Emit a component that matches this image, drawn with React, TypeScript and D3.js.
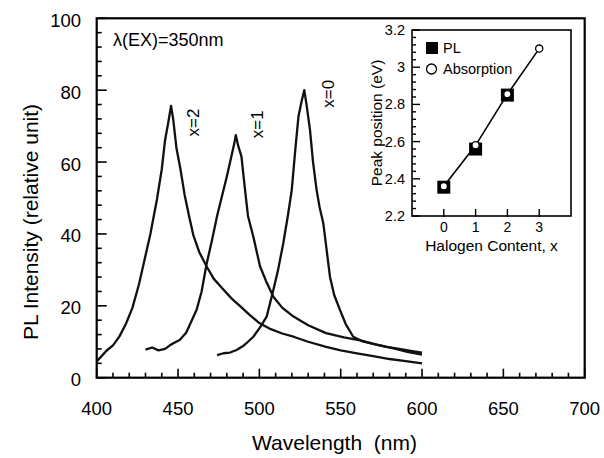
import { useEffect, useRef } from "react";
import * as d3 from "d3";

// PL spectra: [wavelength nm, intensity]
const spectrumX2: [number, number][] = [
  [400, 4.5], [403, 6], [406, 7.5], [410, 9], [414, 11.5], [418, 15], [422, 19.5],
  [426, 26], [429, 32], [433, 40], [437, 49.5], [440, 58], [442, 66], [444, 71],
  [445.7, 75.6], [447, 72], [449, 64], [451.5, 58], [454, 51], [457, 44.5],
  [459.5, 39.5], [463, 35], [467.5, 31], [472, 27.5], [478, 24.5], [483, 22],
  [488, 20], [494, 17.5], [500, 15.2], [507, 13.5], [514, 12.3], [521, 11.4],
  [530, 10], [541, 8.6], [550, 7.6], [560, 6.8], [570, 6], [580, 5.2], [590, 4.6],
  [600, 4],
];

const spectrumX1: [number, number][] = [
  [430, 7.8], [434, 8.4], [438, 7.6], [442, 8], [445, 9], [448, 9.8], [451, 10.5],
  [455, 12.5], [458.5, 16], [461.5, 19], [464.5, 24], [467.5, 31.5], [471, 38.5],
  [474, 45], [477, 50.5], [480, 56], [482.5, 61], [484.5, 65], [485.5, 67.5],
  [487, 64.5], [489, 61.5], [491, 53], [493, 45], [496.3, 39.2], [500.4, 31],
  [504, 27], [508.6, 22.5], [514, 19.5], [521, 17], [530, 14.6], [541, 12.4],
  [552, 11.2], [562, 10.4], [572, 9.2], [582, 8.2], [591, 7.2], [600, 6.4],
];

const spectrumX0: [number, number][] = [
  [474, 6.3], [478, 6.8], [482, 7], [486, 7.7], [490, 8.8], [493, 10], [496.3, 11.4],
  [500.4, 14], [504.5, 17], [508.6, 24.4], [511.5, 30], [514.7, 37.4], [517.5, 45],
  [519.9, 52.2], [522, 63], [524, 72.6], [526, 77], [527.6, 80], [529, 76],
  [531.1, 69], [533, 60], [535.2, 52.2], [537, 47.5], [539.3, 43], [541.5, 35],
  [543.4, 28.1], [546, 23], [549.6, 18.8], [553, 15], [557.7, 11.4], [563, 10.2],
  [570, 9.4], [578, 8.6], [586, 8], [594, 7.4], [600, 7],
];

const spectra = [spectrumX2, spectrumX1, spectrumX0];
const curveLabels = ["x=2", "x=1", "x=0"];
const curveLabelAt: [number, number][] = [[459, 71], [498.5, 70.5], [542, 79]];

const xTicks = [400, 450, 500, 550, 600, 650, 700];
const yTicks = [0, 20, 40, 60, 80, 100];

// inset: peak position vs halogen content
const halogen = [0, 1, 2, 3];
const plPeak = [2.355, 2.56, 2.85];
const absPeak = [2.36, 2.58, 2.855, 3.1];
const insetXTicks = [0, 1, 2, 3];
const insetYTicks = [2.2, 2.4, 2.6, 2.8, 3, 3.2];

const FONT = "'Liberation Sans', Arial, Helvetica, sans-serif";

export default function App() {
  const svgRef = useRef<SVGSVGElement>(null);

  useEffect(() => {
    if (!svgRef.current) return;
    const svg = d3.select(svgRef.current);
    svg.selectAll("*").remove();

    const x = d3.scaleLinear().domain([400, 700]).range([96.7, 584.7]);
    const y = d3.scaleLinear().domain([0, 100]).range([377.7, 18.3]);

    // ticks (inward)
    svg.append("g")
      .selectAll("line")
      .data(d3.range(400, 701, 10))
      .join("line")
      .attr("x1", (d) => x(d)).attr("x2", (d) => x(d))
      .attr("y1", y(0)).attr("y2", (d) => y(0) - (d % 50 === 0 ? 9 : 5))
      .attr("stroke", "#000").attr("stroke-width", 1.6);

    svg.append("g")
      .selectAll("line")
      .data(d3.range(0, 101, 4))
      .join("line")
      .attr("y1", (d) => y(d)).attr("y2", (d) => y(d))
      .attr("x1", x(400)).attr("x2", (d) => x(400) + (d % 20 === 0 ? 10 : 5))
      .attr("stroke", "#000").attr("stroke-width", 1.6);

    // spectra
    const line = d3.line<[number, number]>()
      .x((d) => x(d[0]))
      .y((d) => y(d[1]))
      .curve(d3.curveLinear);

    svg.append("g")
      .selectAll("path")
      .data(spectra)
      .join("path")
      .attr("d", (d) => line(d))
      .attr("fill", "none")
      .attr("stroke", "#111")
      .attr("stroke-width", 2.3)
      .attr("stroke-linejoin", "round");

    // frame
    svg.append("rect")
      .attr("x", x(400)).attr("y", y(100))
      .attr("width", x(700) - x(400)).attr("height", y(0) - y(100))
      .attr("fill", "none").attr("stroke", "#000").attr("stroke-width", 2.2);

    // tick labels
    svg.append("g")
      .selectAll("text")
      .data(xTicks)
      .join("text")
      .attr("x", (d) => x(d)).attr("y", 409)
      .attr("dy", "0.35em")
      .attr("text-anchor", "middle")
      .attr("font-size", 18.5)
      .text((d) => d);

    svg.append("g")
      .selectAll("text")
      .data(yTicks)
      .join("text")
      .attr("x", 81).attr("y", (d) => y(d) + 2)
      .attr("dy", "0.35em")
      .attr("text-anchor", "end")
      .attr("font-size", 18.5)
      .text((d) => d);

    // axis titles
    svg.append("text")
      .attr("x", 252).attr("y", 450)
      .attr("font-size", 21)
      .attr("xml:space", "preserve")
      .text("Wavelength  (nm)");

    svg.append("text")
      .attr("transform", "translate(38,222) rotate(-90)")
      .attr("text-anchor", "middle")
      .attr("font-size", 21)
      .text("PL Intensity (relative unit)");

    svg.append("text")
      .attr("x", 113).attr("y", 40)
      .attr("dy", "0.35em")
      .attr("font-size", 18)
      .text("λ(EX)=350nm");

    // curve labels
    svg.append("g")
      .selectAll("text")
      .data(curveLabels)
      .join("text")
      .attr("transform", (d, i) => `translate(${x(curveLabelAt[i][0])},${y(curveLabelAt[i][1])}) rotate(-90)`)
      .attr("text-anchor", "middle")
      .attr("dy", "0.35em")
      .attr("font-size", 17)
      .text((d) => d);

    // ---- inset ----
    const xi = d3.scaleLinear().domain([-1, 4]).range([412, 571]);
    const yi = d3.scaleLinear().domain([2.2, 3.2]).range([216, 30]);
    const inset = svg.append("g");

    inset.append("g")
      .selectAll("line")
      .data(d3.range(0, 26).map((i) => 2.2 + i * 0.04))
      .join("line")
      .attr("y1", (d) => yi(d)).attr("y2", (d) => yi(d))
      .attr("x1", xi(-1))
      .attr("x2", (_, i) => xi(-1) + (i % 5 === 0 ? 8 : 4))
      .attr("stroke", "#000").attr("stroke-width", 1.4);

    inset.append("g")
      .selectAll("line")
      .data(insetXTicks)
      .join("line")
      .attr("x1", (d) => xi(d)).attr("x2", (d) => xi(d))
      .attr("y1", yi(2.2) + 1).attr("y2", yi(2.2) - 7)
      .attr("stroke", "#000").attr("stroke-width", 1.4);

    const iline = d3.line<number>()
      .x((_, i) => xi(halogen[i]))
      .y((d) => yi(d));

    inset.append("path")
      .attr("d", iline(absPeak))
      .attr("fill", "none").attr("stroke", "#000").attr("stroke-width", 1.6);

    inset.append("g")
      .selectAll("rect")
      .data(plPeak)
      .join("rect")
      .attr("x", (_, i) => xi(halogen[i]) - 6.5)
      .attr("y", (d) => yi(d) - 6.5)
      .attr("width", 13).attr("height", 13)
      .attr("fill", "#000");

    inset.append("g")
      .selectAll("circle")
      .data(absPeak)
      .join("circle")
      .attr("cx", (_, i) => xi(halogen[i]))
      .attr("cy", (d) => yi(d))
      .attr("r", 3.6)
      .attr("fill", "#fff").attr("stroke", "#000").attr("stroke-width", 1.3);

    inset.append("rect")
      .attr("x", xi(-1)).attr("y", yi(3.2))
      .attr("width", xi(4) - xi(-1)).attr("height", yi(2.2) - yi(3.2))
      .attr("fill", "none").attr("stroke", "#000").attr("stroke-width", 1.6);

    inset.append("g")
      .selectAll("text")
      .data(insetYTicks)
      .join("text")
      .attr("x", 405).attr("y", (d) => yi(d))
      .attr("dy", "0.35em")
      .attr("text-anchor", "end")
      .attr("font-size", 14.5)
      .text((d) => d);

    inset.append("g")
      .selectAll("text")
      .data(insetXTicks)
      .join("text")
      .attr("x", (d) => xi(d)).attr("y", 227)
      .attr("dy", "0.35em")
      .attr("text-anchor", "middle")
      .attr("font-size", 14)
      .text((d) => d);

    inset.append("text")
      .attr("x", (xi(-1) + xi(4)) / 2).attr("y", 246)
      .attr("dy", "0.35em")
      .attr("text-anchor", "middle")
      .attr("font-size", 15.5)
      .text("Halogen Content, x");

    inset.append("text")
      .attr("transform", `translate(377,${(yi(2.2) + yi(3.2)) / 2}) rotate(-90)`)
      .attr("text-anchor", "middle")
      .attr("dy", "0.35em")
      .attr("font-size", 15.5)
      .text("Peak position (eV)");

    // legend
    inset.append("rect")
      .attr("x", 426).attr("y", 42).attr("width", 12).attr("height", 12)
      .attr("fill", "#000");
    inset.append("text")
      .attr("x", 443).attr("y", 48).attr("dy", "0.35em")
      .attr("font-size", 14.5).text("PL");
    inset.append("circle")
      .attr("cx", 431.5).attr("cy", 69).attr("r", 5)
      .attr("fill", "#fff").attr("stroke", "#000").attr("stroke-width", 1.3);
    inset.append("text")
      .attr("x", 443).attr("y", 69).attr("dy", "0.35em")
      .attr("font-size", 14.5).text("Absorption");
  }, []);

  return (
    <div>
      <style>{`body{margin:0}`}</style>
      <svg
        ref={svgRef}
        width={604}
        height={458}
        style={{ display: "block", fontFamily: FONT, background: "#fff" }}
      />
    </div>
  );
}
